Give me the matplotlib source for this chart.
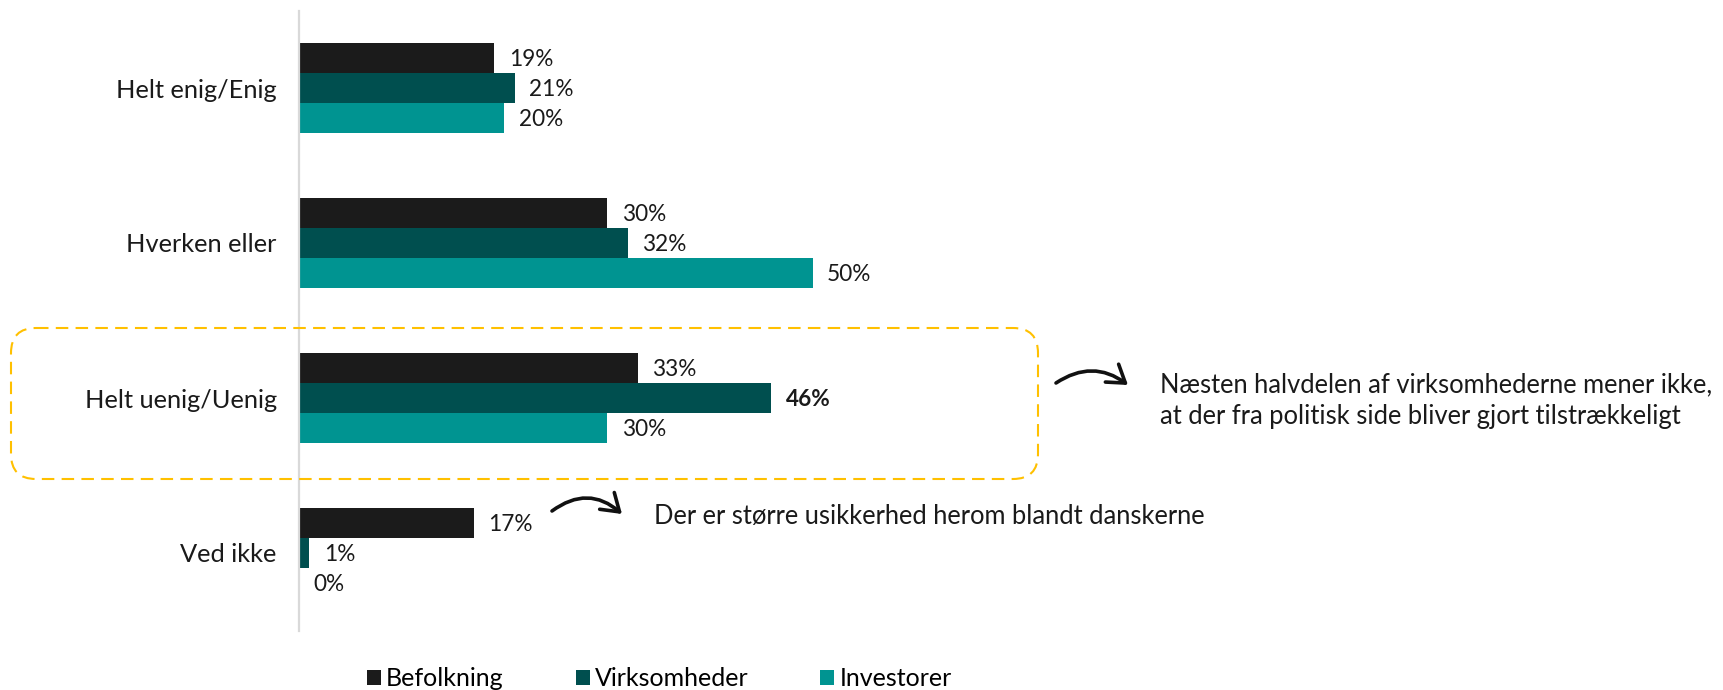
import matplotlib
matplotlib.use('Agg')
import matplotlib.pyplot as plt
from matplotlib.patches import FancyBboxPatch, FancyArrowPatch
import numpy as np

categories = ["Helt enig/Enig", "Hverken eller", "Helt uenig/Uenig", "Ved ikke"]
series_names = ["Befolkning", "Virksomheder", "Investorer"]
befolkning = [19, 30, 33, 17]
virksomheder = [21, 32, 46, 1]
investorer = [20, 50, 30, 0]
colors = ["#1b1b1b", "#004f4f", "#009491"]
bold_label = (2, 1)  # (category index, series index)

note_main = ["Næsten halvdelen af virksomhederne mener ikke,",
             "at der fra politisk side bliver gjort tilstrækkeligt"]
note_small = "Der er større usikkerhed herom blandt danskerne"

plt.rcParams['font.family'] = ['Lato', 'DejaVu Sans']

W, H = 1723, 690
fig = plt.figure(figsize=(W / 100, H / 100), dpi=100)
px_per_pct = 10.27
ax_left, ax_right = 299, 1723
ax_top, ax_bottom = 10.5, 630.5
ax = fig.add_axes([ax_left / W, 1 - ax_bottom / H, (ax_right - ax_left) / W, (ax_bottom - ax_top) / H])
ax.set_xlim(0, (ax_right - ax_left) / px_per_pct)
ax.set_ylim(len(categories) - 0.5, -0.5)

bar_h = 30 / 155
y = np.arange(len(categories))
series = [befolkning, virksomheder, investorer]
for j, (vals, name, c) in enumerate(zip(series, series_names, colors)):
    offs = (j - 1) * bar_h
    ax.barh(y + offs, vals, height=bar_h, color=c, label=name)
    for i, v in enumerate(vals):
        ax.annotate(f"{v}%", xy=(v, y[i] + offs), xytext=(10.5, -1),
                    textcoords='offset points', va='center', ha='left',
                    fontsize=16.3, color='#1a1a1a',
                    fontweight='bold' if (i, j) == bold_label else 'normal')

ax.set_yticks(y, categories)
ax.set_xticks([])
ax.tick_params(axis='y', length=0, pad=16, labelsize=18.3, labelcolor='#1a1a1a')
for s in ['top', 'right', 'bottom']:
    ax.spines[s].set_visible(False)
ax.spines['left'].set_color('#d9d9d9')
ax.spines['left'].set_linewidth(1.6)
ax.patch.set_alpha(0)

handles, labels = ax.get_legend_handles_labels()
fig.legend(handles, labels, loc='center left', bbox_to_anchor=(367 / W, 1 - 679 / H),
           ncol=3, frameon=False, fontsize=18, handlelength=0.56, handleheight=0.56,
           handletextpad=0.2, columnspacing=2.88, borderpad=0, borderaxespad=0)

ov = fig.add_axes([0, 0, 1, 1])
ov.set_xlim(0, W)
ov.set_ylim(H, 0)
ov.axis('off')

box = FancyBboxPatch((11, 328), 1027, 151, boxstyle='round,pad=0,rounding_size=25',
                     fill=False, ec='#FFC000', lw=1.5, ls=(0, (6, 3.5)))
ov.add_patch(box)

for (x0, y0), (x1, y1), rad in [((1056, 383), (1128, 385), -0.35),
                                ((552, 511), (622, 514), -0.4)]:
    arr = FancyArrowPatch((x0, y0), (x1, y1), connectionstyle=f'arc3,rad={rad}',
                          arrowstyle='->,head_length=0.6,head_width=0.4',
                          mutation_scale=20, lw=2.6, color='#111111',
                          shrinkA=0, shrinkB=0)
    ov.add_patch(arr)

ov.text(1160, 392, note_main[0], va='baseline', ha='left', fontsize=18.4, color='#1a1a1a')
ov.text(1160, 424, note_main[1], va='baseline', ha='left', fontsize=18.4, color='#1a1a1a')
ov.text(654, 524, note_small, va='baseline', ha='left', fontsize=18.4, color='#1a1a1a')

fig.savefig('out.png', dpi=100)
